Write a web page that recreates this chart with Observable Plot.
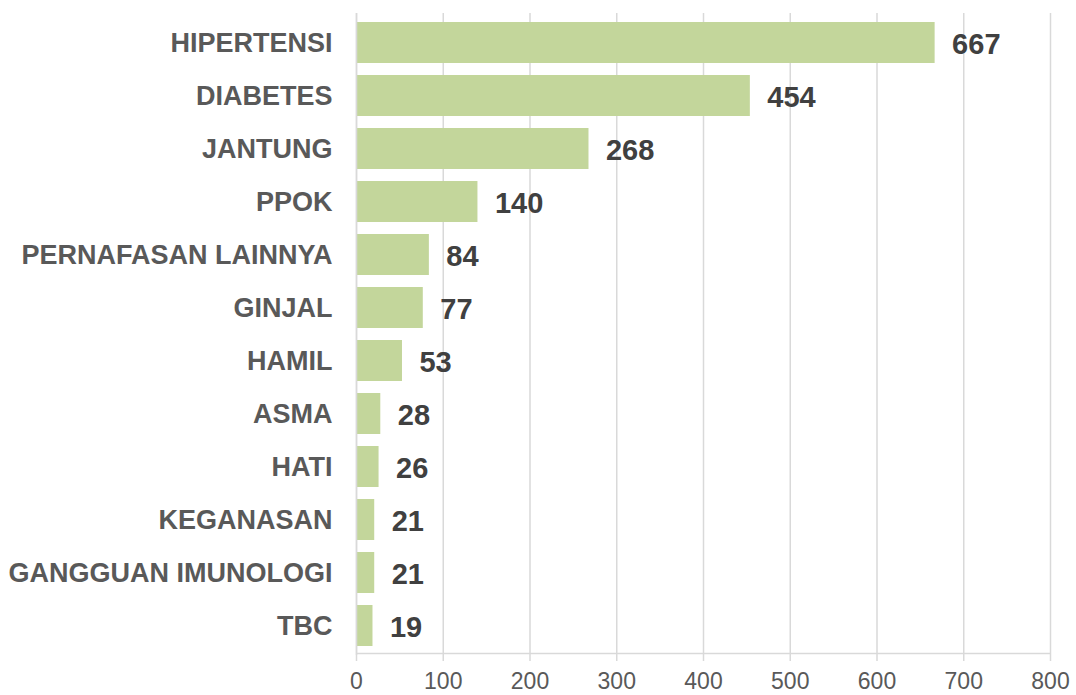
<!DOCTYPE html>
<html>
<head>
<meta charset="utf-8">
<script src="https://cdn.jsdelivr.net/npm/d3@7"></script>
<script src="https://cdn.jsdelivr.net/npm/@observablehq/plot@0.6"></script>
<style>
  html, body { margin: 0; padding: 0; background: #fff; }
  #chart svg { display: block; font-family: "Liberation Sans", Arial, sans-serif; }
</style>
</head>
<body>
<div id="chart"></div>
<script>
const categories = ["HIPERTENSI", "DIABETES", "JANTUNG", "PPOK", "PERNAFASAN LAINNYA", "GINJAL", "HAMIL", "ASMA", "HATI", "KEGANASAN", "GANGGUAN IMUNOLOGI", "TBC"];
const values = [667, 454, 268, 140, 84, 77, 53, 28, 26, 21, 21, 19];
const xTicks = [0, 100, 200, 300, 400, 500, 600, 700, 800];

const data = categories.map((c, i) => ({category: c, value: values[i]}));

const chart = Plot.plot({
  width: 1076,
  height: 695,
  marginLeft: 356,
  marginRight: 26,
  marginTop: 13,
  marginBottom: 40,
  style: {fontFamily: "'Liberation Sans', Arial, sans-serif", background: "#fff"},
  x: {domain: [0, 800], ticks: xTicks, label: null},
  y: {domain: categories, paddingInner: 0.234, paddingOuter: 0.11, label: null},
  marks: [
    Plot.gridX(xTicks, {stroke: "#d9d9d9", strokeOpacity: 1, strokeWidth: 1.5}),
    Plot.barX(data, {x: "value", y: "category", fill: "#c3d69b"}),
    Plot.ruleX([0], {stroke: "#d9d9d9", strokeWidth: 1.5}),
    Plot.ruleY([categories[categories.length - 1]], {y: d => d, x1: 0, x2: 800, dy: 27.5, stroke: "#d9d9d9", strokeWidth: 1.5}),
    Plot.axisX(xTicks, {tickSize: 6, stroke: "#d9d9d9", strokeWidth: 1.5, fontSize: 23, fill: "#595959", tickPadding: 11, tickFormat: d => String(d), label: null}),
    Plot.axisY({tickSize: 0, tickPadding: 24, fontSize: 27, fontWeight: "bold", fill: "#595959", label: null}),
    Plot.text(data, {x: "value", y: "category", text: d => String(d.value), textAnchor: "start", dx: 17, dy: 2, fontSize: 29, fontWeight: "bold", fill: "#404040"})
  ]
});
document.getElementById("chart").appendChild(chart);
</script>
</body>
</html>
